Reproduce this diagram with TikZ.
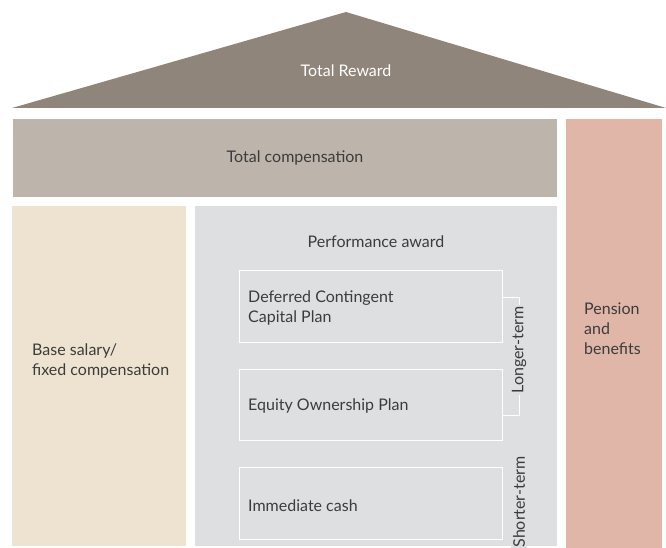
\documentclass[tikz,border=0pt]{standalone}
\usepackage{fontspec}
\setmainfont{Lato}
\usetikzlibrary{positioning}
\definecolor{roofc}{RGB}{143,133,122}
\definecolor{compc}{RGB}{189,180,171}
\definecolor{basec}{RGB}{237,227,208}
\definecolor{perfc}{RGB}{222,223,225}
\definecolor{pensc}{RGB}{223,182,168}
\definecolor{txtc}{RGB}{60,60,60}

\begin{document}
\begin{tikzpicture}[x=1pt, y=-1pt,
    font=\fontsize{16}{20}\selectfont, text=txtc,
    panel/.style={anchor=north west, inner sep=0pt, outer sep=0pt},
    plan/.style={draw=white, line width=0.8pt, anchor=north west, inner sep=0pt, minimum width=263pt},
    lbl/.style={anchor=west, align=left, inner sep=0pt},
    term/.style={rotate=90, fill=perfc, inner sep=2pt}
  ]

  \useasboundingbox (0,0) rectangle (666,548);

  \fill[roofc] (12,108) -- (346,12) -- (666,108) -- cycle;
  \node[text=white] (tr) at (346,71) {Total Reward};

  \node[panel, fill=compc, minimum width=544pt, minimum height=78pt] (tc) at (13,119) {};
  \node (tctxt) at (295,158) {Total compensation};

  \node[panel, fill=basec, minimum width=174pt, minimum height=340pt] (bs) at (12,206) {};
  \node[lbl] (bstxt) at (32,361) {Base salary/\\fixed compensation};

  \node[panel, fill=perfc, minimum width=362pt, minimum height=340pt] (pa) at (195,206) {};
  \node[anchor=base] (patxt) at (376,247) {Performance award};

  \node[panel, fill=pensc, minimum width=96pt, minimum height=429pt] (pb) at (566,119) {};
  \node[lbl] (pbtxt) at (584,329) {Pension\\and\\benefits};

  \node[plan, minimum height=72pt] (dccp) at (239,270) {};
  \node[plan, minimum height=71pt] (eop) at (239,369) {};
  \node[plan, minimum height=72pt] (ic) at (239,467) {};

  \node[lbl] (dccptxt) at (248,308) {Deferred Contingent\\Capital Plan};
  \node[lbl] (eoptxt) at (248,406) {Equity Ownership Plan};
  \node[lbl] (ictxt) at (248,506) {Immediate cash};

  \coordinate (lt) at (519,297);
  \coordinate (lb) at (519,415);
  \draw[white, line width=0.8pt] (dccp.east |- lt) -- (lt) -- (lb) -- (eop.east |- lb);
  \node[term] (long) at (519,350) {Longer-term};
  \node[term] (short) at (519,502) {Shorter-term};

\end{tikzpicture}
\end{document}
